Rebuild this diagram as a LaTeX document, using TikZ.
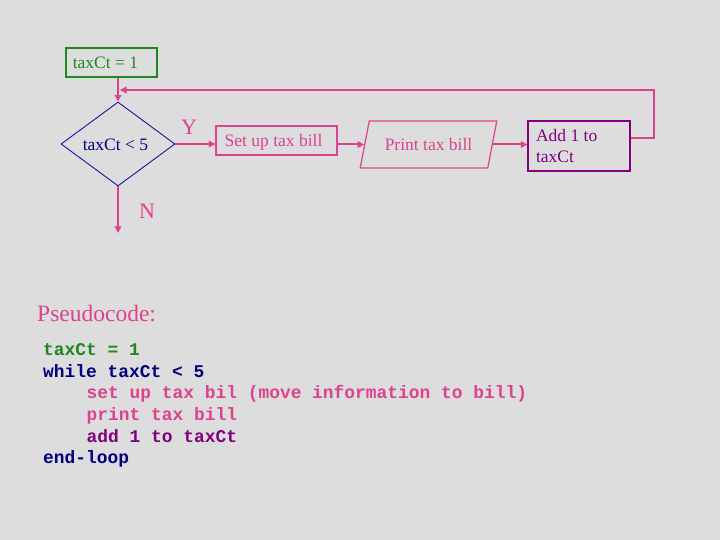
\documentclass[tikz,border=0pt]{standalone}
\usepackage{fontspec}
\setmainfont{Liberation Serif}
\setmonofont{Liberation Mono}
\usetikzlibrary{arrows.meta,shapes.geometric}
\definecolor{bg}{RGB}{221,221,221}
\definecolor{pinkc}{RGB}{222,66,142}
\definecolor{greenc}{RGB}{30,135,30}
\definecolor{navyc}{RGB}{0,0,128}
\definecolor{bluec}{RGB}{20,20,170}
\definecolor{purplec}{RGB}{128,0,128}
\tikzset{
  diagtext/.style={font=\fontsize{17.5}{21}\selectfont, text height=12.5pt, text depth=0pt, inner sep=0pt},
  boxnode/.style={diagtext, draw, line width=1.2pt},
  conn/.style={draw=pinkc, line width=2pt},
  arr/.style={conn, -{Triangle[length=6.5pt,width=6.5pt]}},
  lbl/.style={font=\fontsize{22}{26}\selectfont, text=pinkc, inner sep=0pt},
  code/.style={font=\ttfamily\bfseries\fontsize{17.9}{21}\selectfont, anchor=base west, inner sep=0pt},
}
\begin{document}
\begin{tikzpicture}[x=1pt,y=-1pt]
\fill[bg] (0,0) rectangle (720,540);
\useasboundingbox (0,0) rectangle (720,540);

% nodes
\node[boxnode, draw=greenc, text=greenc, minimum width=91pt, minimum height=29pt] (init) at (111.5,62.5) {taxCt = 1\hspace*{12pt}};
\node[diamond, draw=bluec, line width=0.9pt, text=navyc, font=\fontsize{17.5}{21}\selectfont, text height=12.5pt, text depth=0pt, inner sep=0pt, aspect=1.36, minimum width=114pt, minimum height=84pt] (dec) at (118,144) {taxCt < 5\hspace*{5pt}};
\node[boxnode, draw=pinkc, text=pinkc, minimum width=121pt, minimum height=29pt] (setup) at (276.5,140.5) {Set up tax bill\hspace*{6pt}};
\node[trapezium, trapezium stretches=true, trapezium left angle=62, trapezium right angle=118, draw=pinkc, line width=1.2pt, text=pinkc, font=\fontsize{17.5}{21}\selectfont, text height=12.5pt, text depth=0pt, inner sep=0pt, minimum width=137pt, minimum height=47pt] (print) at (428.5,144.5) {Print tax bill};
\node[draw=purplec, line width=1.2pt, text=purplec, font=\fontsize{17.5}{21}\selectfont, align=left, text width=86pt, inner xsep=8pt, inner ysep=0pt, minimum height=50pt] (add) at (579,146) {\spaceskip=0pt\xspaceskip=0pt Add 1 to\\taxCt};

\node[lbl] (ylbl) at (189,127) {Y};
\node[lbl] (nlbl) at (147,211) {N};

\coordinate (join) at (118,90);
\coordinate (corner) at (654,90);
\coordinate (nend) at (118,233);

% connectors
\draw[arr] (init.south -| dec.north) -- (dec.north);
\draw[arr] ([yshift=8pt]add.east) -| (corner) -- ([xshift=2pt]join);
\draw[arr] (dec.east) -- (dec.east -| setup.west);
\draw[arr] (setup.east |- print.west) -- (print.west);
\draw[arr] (print.east) -- (print.east -| add.west);
\draw[arr] (dec.south) -- (nend);

% pseudocode
\node[font=\fontsize{23.5}{28}\selectfont, text=pinkc, anchor=base west, inner sep=0pt] (pseudo) at (37,321) {Pseudocode:};
\node[code, text=greenc] (c1) at (43,355) {taxCt = 1};
\node[code, text=navyc] (c2) at (43,377) {while taxCt < 5};
\node[code, text=pinkc] (c3) at (86.5,398.5) {set up tax bil (move information to bill)};
\node[code, text=pinkc] (c4) at (86.5,420) {print tax bill};
\node[code, text=purplec] (c5) at (86.5,442) {add 1 to taxCt};
\node[code, text=navyc] (c6) at (43,463) {end-loop};
\end{tikzpicture}
\end{document}
